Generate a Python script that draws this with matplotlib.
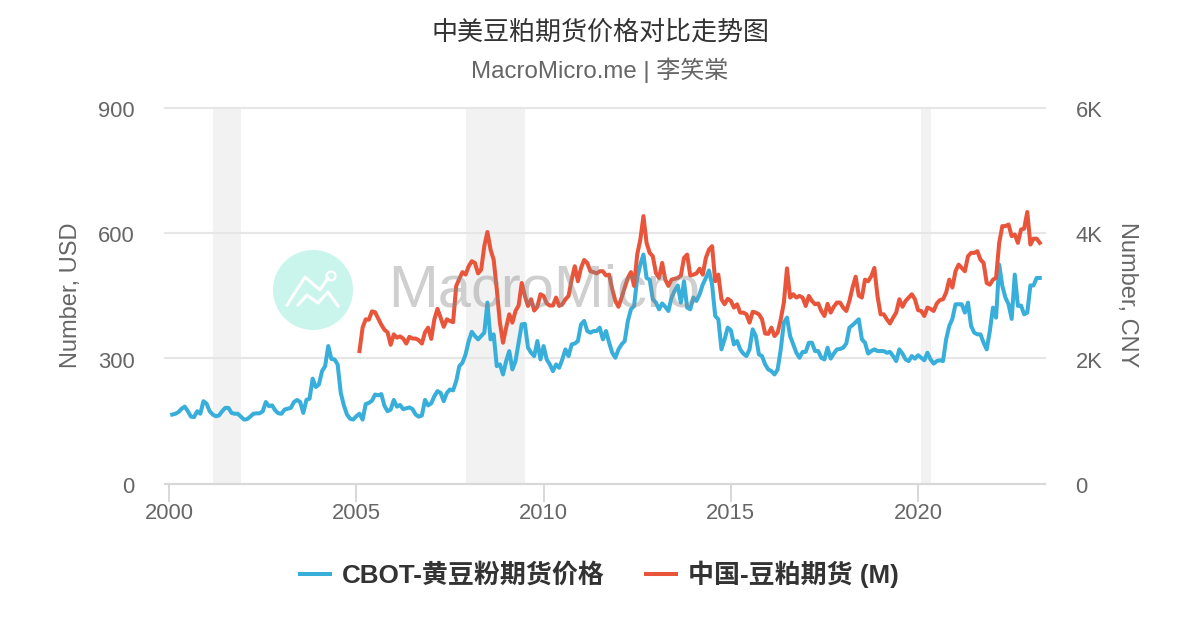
import numpy as np
import matplotlib
matplotlib.use("Agg")
import matplotlib.pyplot as plt
from matplotlib.lines import Line2D
from matplotlib.patches import Circle
from matplotlib.transforms import ScaledTranslation

FONT = ['Liberation Sans', 'Noto Sans CJK SC', 'DejaVu Sans']
plt.rcParams['font.family'] = FONT

title = "中美豆粕期货价格对比走势图"
subtitle = "MacroMicro.me | 李笑棠"
blue_name = "CBOT-黄豆粉期货价格"
red_name = "中国-豆粕期货 (M)"

# CBOT soybean meal (USD), monthly, starting Feb 2000
blue_values = [
    165, 167, 171, 179, 184, 173, 160, 159, 173, 167, 197,                # 2000
    191, 173, 165, 161, 163, 173, 181, 181, 169, 167, 167, 160,           # 2001
    153, 154, 160, 167, 168, 168, 173, 195, 185, 187, 175, 168,           # 2002
    167, 177, 179, 181, 195, 200, 195, 169, 200, 203, 251, 231,           # 2003
    237, 269, 281, 329, 298, 297, 285, 217, 187, 165, 155, 153,           # 2004
    161, 167, 153, 190, 193, 198, 213, 211, 214, 186, 173, 177,           # 2005
    200, 184, 188, 178, 180, 182, 178, 165, 160, 163, 200, 187,           # 2006
    192, 209, 221, 217, 197, 217, 225, 223, 245, 281, 289, 309,           # 2007
    341, 363, 353, 345, 353, 361, 433, 345, 357, 281, 285, 261,           # 2008
    293, 317, 273, 293, 337, 381, 382, 325, 313, 305, 341, 297,           # 2009
    329, 297, 285, 269, 285, 277, 297, 321, 305, 333, 335, 341,           # 2010
    381, 389, 365, 361, 365, 365, 373, 345, 365, 337, 313, 301,           # 2011
    321, 333, 341, 389, 417, 425, 492, 524, 548, 492, 488, 441,           # 2012
    433, 417, 431, 423, 413, 445, 461, 474, 433, 484, 421, 417,           # 2013
    445, 437, 453, 476, 492, 510, 476, 401, 393, 321, 345, 373,           # 2014
    367, 333, 341, 321, 311, 305, 321, 369, 353, 309, 305, 285,           # 2015
    273, 269, 261, 273, 321, 385, 397, 353, 333, 313, 301, 315,           # 2016
    315, 337, 337, 317, 317, 301, 297, 325, 299, 311, 321, 322,           # 2017
    325, 335, 373, 379, 386, 393, 345, 337, 311, 317, 321, 317,           # 2018
    317, 317, 313, 315, 305, 293, 321, 311, 297, 293, 305, 299,           # 2019
    307, 301, 295, 313, 297, 287, 293, 295, 293, 345, 377, 394,           # 2020
    429, 429, 429, 409, 433, 377, 361, 357, 357, 337, 321, 365,           # 2021
    421, 397, 524, 473, 445, 429, 394, 500, 425, 426, 405, 409,           # 2022
    474, 474, 492, 492,                                                   # 2023
]

# China soybean meal futures (CNY), monthly, starting Feb 2005
red_values = [
    2113, 2487, 2620, 2613, 2747, 2733, 2633, 2533, 2453, 2413, 2213,     # 2005
    2380, 2327, 2347, 2313, 2233, 2340, 2313, 2313, 2287, 2233, 2413, 2487,
    2307, 2620, 2787, 2647, 2500, 2620, 2593, 2573, 3153, 3267, 3373, 3333,
    3467, 3547, 3520, 3353, 3413, 3787, 4013, 3733, 3573, 3100, 2567, 2247,
    2487, 2700, 2567, 2753, 2840, 3200, 2993, 2833, 2940, 2760, 2820, 3020,
    2993, 2873, 2840, 2840, 2967, 2833, 2860, 2940, 2993, 3253, 3467, 3227,
    3440, 3567, 3520, 3387, 3373, 3353, 3387, 3387, 3320, 3333, 3100, 2913,
    2820, 2967, 3127, 3280, 3373, 3153, 3653, 3893, 4267, 3840, 3680, 3627,
    3360, 3280, 3520, 3253, 3153, 3253, 3267, 3280, 3320, 3600, 3653, 3320,
    3333, 3353, 3427, 3333, 3600, 3733, 3787, 3227, 3333, 2940, 2860, 2947,
    2913, 2807, 2860, 2727, 2727, 2700, 2567, 2740, 2727, 2700, 2620, 2393,
    2387, 2487, 2353, 2407, 2620, 2887, 3433, 2967, 3020, 2967, 2993, 2967,
    2833, 2993, 2913, 2860, 2873, 2753, 2673, 2867, 2727, 2820, 2887, 2887,
    2807, 2753, 2913, 3127, 3300, 3000, 2967, 3253, 3227, 3307, 3440, 2993,
    2700, 2700, 2620, 2553, 2647, 2727, 2940, 2820, 2913, 2967, 3020, 2940,
    2767, 2753, 2673, 2807, 2787, 2753, 2873, 2927, 2940, 3047, 3253, 3127,
    3387, 3493, 3440, 3387, 3627, 3680, 3680, 3707, 3573, 3520, 3200, 3173,
    3253, 3280, 3840, 4107, 4107, 4133, 3947, 3973, 3840, 4053, 4067, 4333,
    3813, 3907, 3907, 3840,
]

recessions = [(2001.17, 2001.92), (2007.92, 2009.5), (2020.08, 2020.35)]
x_ticks = [2000, 2005, 2010, 2015, 2020]
left_ticks = [0, 300, 600, 900]
right_ticks = [0, 2000, 4000, 6000]
right_labels = ["0", "2K", "4K", "6K"]

BLUE = "#38aedb"
RED = "#e8553a"
GREY = "#666666"
W, H = 1200, 630

fig = plt.figure(figsize=(W / 100, H / 100), dpi=100, facecolor="white")
ax = fig.add_axes([165 / W, 1 - 483.5 / H, 880 / W, 376 / H])
ax.patch.set_visible(False)
ax2 = ax.twinx()
ax2.patch.set_visible(False)

blue_x = 2000 + (1 + np.arange(len(blue_values))) / 12
red_x = 2005 + (1 + np.arange(len(red_values))) / 12

for a, b in recessions:
    ax.axvspan(a, b, color="#f2f2f2", lw=0, zorder=0)
ax.plot(blue_x, blue_values, color=BLUE, lw=2.9, solid_joinstyle="round", zorder=3)
ax2.plot(red_x, red_values, color=RED, lw=2.9, solid_joinstyle="round", zorder=3)

ax.set_xlim(1999.89, 2023.39)
ax.set_ylim(0, 900)
ax2.set_ylim(0, 6000)
ax.set_xticks(x_ticks)
ax.set_yticks(left_ticks)
ax2.set_yticks(right_ticks)
ax2.set_yticklabels(right_labels)
ax.grid(axis="y", color="#e6e6e6", lw=1.5, zorder=1)
ax.set_axisbelow(True)
for g in ax.get_ygridlines():
    g.set_clip_on(False)

for a in (ax, ax2):
    for s in a.spines.values():
        s.set_visible(False)
ax.spines["bottom"].set_visible(True)
ax.spines["bottom"].set_color("#d8d8d8")
ax.spines["bottom"].set_linewidth(1.5)
ax.tick_params(axis="x", length=13, width=1.4, color="#d8d8d8", labelsize=15.8,
               labelcolor=GREY, pad=1)
ax.tick_params(axis="y", length=0, labelsize=15.8, labelcolor=GREY, pad=22)
ax2.tick_params(axis="y", length=0, labelsize=15.8, labelcolor=GREY, pad=22)

shift = ScaledTranslation(0, -1.5 / 100, fig.dpi_scale_trans)
for a in (ax, ax2):
    for lab in a.get_yticklabels():
        lab.set_transform(lab.get_transform() + shift)

fig.text(600 / W, 1 - 32 / H, title, ha="center", va="center", fontsize=18.75, color="#333333")
fig.text(600 / W, 1 - 70 / H, subtitle, ha="center", va="center", fontsize=17.3, color=GREY)
fig.text(71 / W, 1 - 295 / H, "Number, USD", rotation=90, ha="center", va="center",
         fontsize=17, color=GREY)
fig.text(1127 / W, 1 - 295 / H, "Number, CNY", rotation=270, ha="center", va="center",
         fontsize=17, color=GREY)

# watermark
fig.add_artist(Circle((313, H - 290), 40, transform=None, color="#c9f5ec", lw=0, zorder=0.5))
fig.add_artist(Line2D([287, 305, 320, 328], [H - 305, H - 277, H - 290, H - 278],
                      transform=None, color="white", lw=2.2, zorder=0.6))
fig.add_artist(Line2D([298, 307, 318, 328, 338], [H - 305, H - 295, H - 303, H - 292, H - 306],
                      transform=None, color="white", lw=2.2, zorder=0.6))
fig.add_artist(Circle((331, H - 276), 4.5, transform=None, facecolor="none", edgecolor="white",
                      lw=1.6, zorder=0.6))
fig.text(388 / W, 1 - 291 / H, "MacroMicro", ha="left", va="center", fontsize=43,
         color="#888888", alpha=0.4, zorder=5)

handles = [Line2D([], [], color=BLUE, lw=2.9), Line2D([], [], color=RED, lw=2.9)]
fig.legend(handles, [blue_name, red_name], loc="center", bbox_to_anchor=(599.5 / W, 1 - 574 / H),
           ncols=2, frameon=False, handlelength=1.15, handletextpad=0.46, columnspacing=1.6,
           prop={"family": FONT, "weight": "bold", "size": 18.7}, labelcolor="#333333")

fig.savefig("out.png", dpi=100, facecolor="white")
